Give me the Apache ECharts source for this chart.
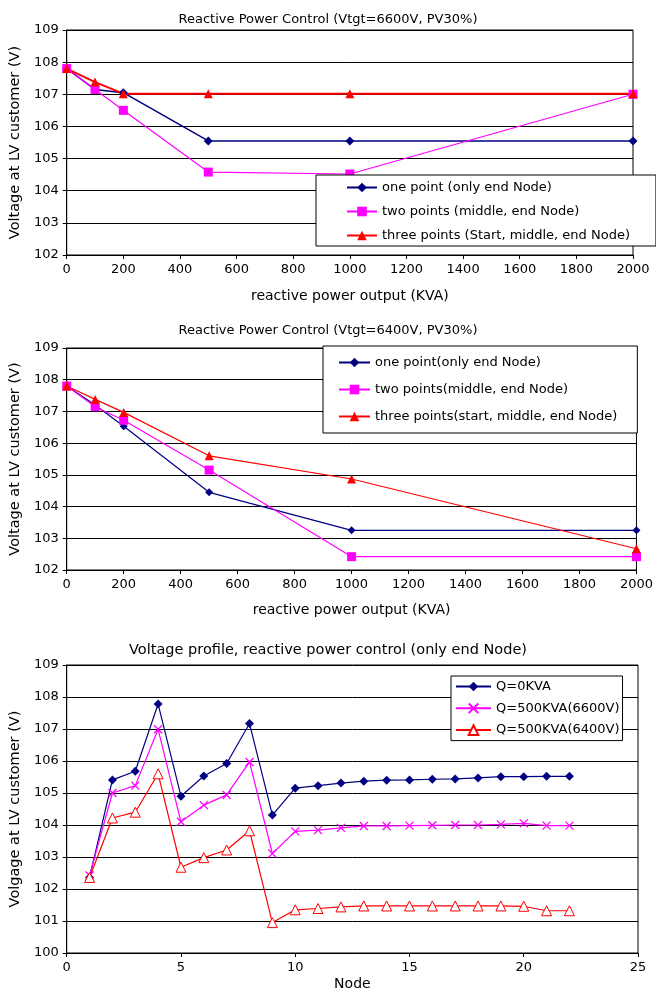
<!DOCTYPE html>
<html><head><meta charset="utf-8">
<script src="https://cdn.jsdelivr.net/npm/echarts@6/dist/echarts.min.js"></script>
<style>html,body{margin:0;padding:0;background:#fff}#c{width:656px;height:992px}</style>
</head><body><div id="c"></div>
<script>
// ---------- Data ----------
const qOutput = [0, 100, 200, 500, 1000, 2000];
const c1OnePoint = [107.8, 107.15, 107.05, 105.55, 105.55, 105.55];
const c1TwoPoints = [107.8, 107.15, 106.5, 104.58, 104.52, 107.0];
const c1ThreePoints = [107.8, 107.38, 107.02, 107.02, 107.02, 107.02];

const c2OnePoint = [107.8, 107.2, 106.53, 104.45, 103.25, 103.25];
const c2TwoPoints = [107.8, 107.15, 106.72, 105.15, 102.42, 102.42];
const c2ThreePoints = [107.8, 107.38, 106.97, 105.6, 104.87, 102.67];

const nodes = [1,2,3,4,5,6,7,8,9,10,11,12,13,14,15,16,17,18,19,20,21,22];
const q0 = [102.36,105.41,105.68,107.78,104.9,105.53,105.92,107.17,104.31,105.15,105.23,105.31,105.37,105.4,105.41,105.43,105.44,105.47,105.51,105.51,105.52,105.52];
const q500_6600 = [102.42,105.0,105.23,106.99,104.1,104.62,104.94,105.97,103.11,103.8,103.84,103.91,103.97,103.97,103.98,103.99,104.0,104.0,104.02,104.05,103.98,103.98];
const q500_6400 = [102.36,104.22,104.4,105.6,102.68,102.98,103.22,103.82,100.95,101.35,101.39,101.44,101.47,101.47,101.47,101.47,101.47,101.47,101.47,101.46,101.32,101.32];

const titles = ['Reactive Power Control (Vtgt=6600V, PV30%)','Reactive Power Control (Vtgt=6400V, PV30%)','Voltage profile, reactive power control (only end Node)'];
const names1 = ['one point (only end Node)','two points (middle, end Node)','three points (Start, middle, end Node)'];
const names2 = ['one point(only end Node)','two points(middle, end Node)','three points(start, middle, end Node)'];
const names3 = ['Q=0KVA','Q=500KVA(6600V)','Q=500KVA(6400V)'];
const yName12 = 'Voltage at LV customer (V)';
const yName3 = 'Volgage at LV customer (V)';
const xName12 = 'reactive power output (KVA)';
const xName3 = 'Node';

// ---------- Chart ----------
const FONT = '"DejaVu Sans", sans-serif';
const NAVY = '#000080', MAG = '#FF00FF', RED = '#FF0000';
const zip = (xs, ys) => xs.map((x, i) => [x, ys[i]]);

function xAxis(gi, max, interval, name, gap) {
  return {type:'value', gridIndex:gi, min:0, max:max, interval:interval,
    name:name, nameLocation:'middle', nameGap:gap,
    nameTextStyle:{fontFamily:FONT, fontSize:14, color:'#000'},
    axisLine:{show:true, onZero:false, lineStyle:{color:'#000', width:1}},
    axisTick:{show:true, inside:false, length:4, lineStyle:{color:'#000'}},
    axisLabel:{fontFamily:FONT, fontSize:13, color:'#000', margin:8, formatter:v => String(v)},
    splitLine:{show:false}};
}
function yAxis(gi, min, name) {
  return {type:'value', gridIndex:gi, min:min, max:109, interval:1,
    name:name, nameLocation:'middle', nameGap:37,
    nameTextStyle:{fontFamily:FONT, fontSize:14.5, color:'#000'},
    axisLine:{show:true, onZero:false, lineStyle:{color:'#000', width:1}},
    axisTick:{show:true, inside:false, length:4, lineStyle:{color:'#000'}},
    axisLabel:{fontFamily:FONT, fontSize:13, color:'#000', margin:8, formatter:v => String(v)},
    splitLine:{show:true, lineStyle:{color:'#000', width:1}}};
}
function line(name, gi, data, color, symbol, size, width, hollow) {
  return {type:'line', name:name, xAxisIndex:gi, yAxisIndex:gi, data:data,
    symbol:symbol, symbolSize:size, showAllSymbol:true, animation:false,
    lineStyle:{color:color, width:width},
    itemStyle: hollow ? {color:'#fff', borderColor:color, borderWidth:1}
                      : (symbol.indexOf('path://')===0 ? {color:'none', borderColor:color, borderWidth:1.3} : {color:color}),
    emphasis:{disabled:true}, z: 3};
}
function legend(names, left, top, padding, gap, itemW) {
  return {data:names, orient:'vertical', left:left, top:top, padding:padding, itemGap:gap,
    itemWidth:itemW, itemHeight:12, backgroundColor:'#fff', borderColor:'#000', borderWidth:1,
    textStyle:{fontFamily:FONT, fontSize:13, color:'#000'}, selectedMode:false, z:10};
}
const XSYM = 'path://M0,0L10,10M10,0L0,10';

const option = {
  backgroundColor:'#fff',
  animation:false,
  title:[
    {text:titles[0], left:'center', top:8, textStyle:{fontFamily:FONT, fontSize:13, fontWeight:'normal', color:'#000'}},
    {text:titles[1], left:'center', top:319, textStyle:{fontFamily:FONT, fontSize:13, fontWeight:'normal', color:'#000'}},
    {text:titles[2], left:'center', top:638, textStyle:{fontFamily:FONT, fontSize:14.5, fontWeight:'normal', color:'#000'}}
  ],
  grid:[
    {left:66, top:30, width:567, height:225, show:true, borderColor:'#000', borderWidth:1, backgroundColor:'#fff'},
    {left:66, top:348, width:571, height:222, show:true, borderColor:'#000', borderWidth:1, backgroundColor:'#fff'},
    {left:65, top:665, width:573, height:288, show:true, borderColor:'#000', borderWidth:1, backgroundColor:'#fff'}
  ],
  xAxis:[xAxis(0, 2000, 200, xName12, 34), xAxis(1, 2000, 200, xName12, 33), xAxis(2, 25, 5, xName3, 24)],
  yAxis:[yAxis(0, 102, yName12), yAxis(1, 102, yName12), yAxis(2, 100, yName3)],
  legend:[
    legend(names1, 316, 175, [6, 26, 4, 30], 11, 30),
    legend(names2, 323, 346, [10, 20, 10, 15], 14, 31),
    legend(names3, 451, 676, [4, 3, 4, 4], 8, 35)
  ],
  series:[
    line(names1[0], 0, zip(qOutput, c1OnePoint), NAVY, 'diamond', 9, 1.5),
    line(names1[1], 0, zip(qOutput, c1TwoPoints), MAG, 'rect', 9, 1.2),
    line(names1[2], 0, zip(qOutput, c1ThreePoints), RED, 'triangle', 9, 2),
    line(names2[0], 1, zip(qOutput, c2OnePoint), NAVY, 'diamond', 8, 1.2),
    line(names2[1], 1, zip(qOutput, c2TwoPoints), MAG, 'rect', 9, 1.2),
    line(names2[2], 1, zip(qOutput, c2ThreePoints), RED, 'triangle', 9, 1.2),
    line(names3[0], 2, zip(nodes, q0), NAVY, 'diamond', 9, 1.2),
    line(names3[1], 2, zip(nodes, q500_6600), MAG, XSYM, 8, 1.2),
    line(names3[2], 2, zip(nodes, q500_6400), RED, 'triangle', 10, 1.2, true)
  ]
};
const chart = echarts.init(document.getElementById('c'), null, {renderer:'canvas'});
chart.setOption(option);
</script></body></html>
